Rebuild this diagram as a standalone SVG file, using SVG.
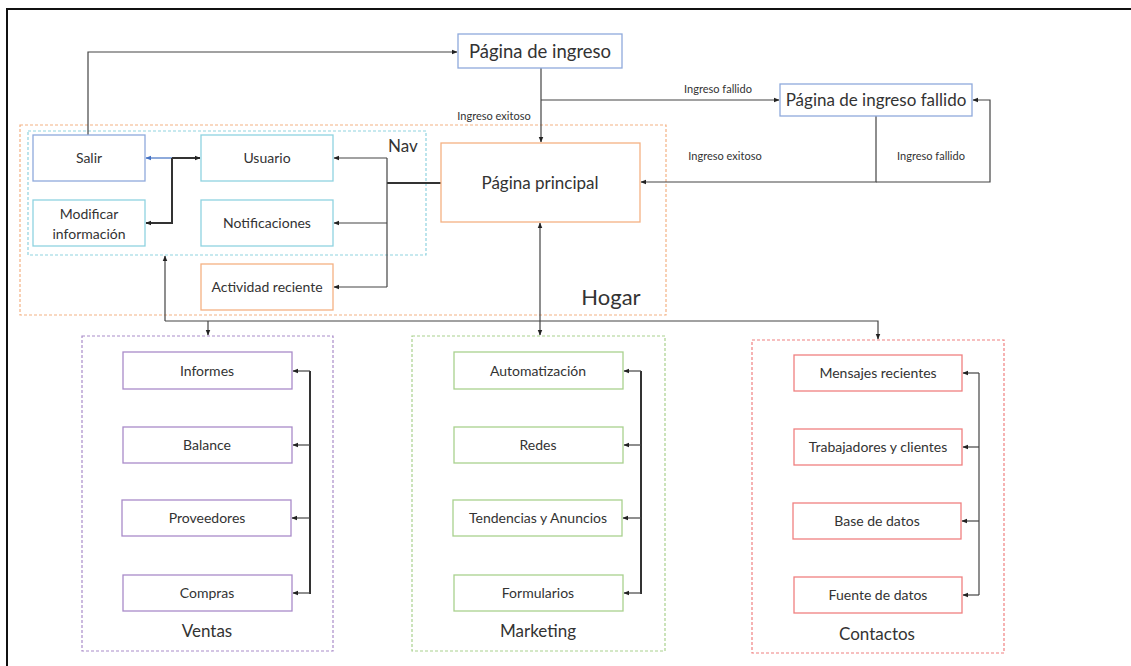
<svg xmlns="http://www.w3.org/2000/svg" width="1131" height="666" viewBox="0 0 1131 666">
<defs>
<marker id="ah" viewBox="0 0 10 10" refX="9" refY="5" markerWidth="6" markerHeight="6" orient="auto-start-reverse" markerUnits="userSpaceOnUse"><path d="M0,1 L10,5 L0,9 z" fill="#222"/></marker>
<marker id="ahb" viewBox="0 0 10 10" refX="9" refY="5" markerWidth="6" markerHeight="6" orient="auto-start-reverse" markerUnits="userSpaceOnUse"><path d="M0,1 L10,5 L0,9 z" fill="#4472c4"/></marker>
</defs>
<style>
text{font-family:Lato,"Open Sans","Liberation Sans",sans-serif;fill:#333;text-anchor:middle}
.box{fill:#fff;stroke-width:1.3}
.blue{stroke:#8faadc}
.cyan{stroke:#8fd3e0}
.orange{stroke:#f4b183}
.purple{stroke:#a98bc9}
.green{stroke:#a9d18e}
.red{stroke:#f08080}
.grp{fill:none;stroke-width:1.2;stroke-dasharray:3 2}
.c{fill:none;stroke:#444;stroke-width:1.2}
.ct{fill:none;stroke:#333;stroke-width:2}
.t14{font-size:14px}
.t11{font-size:11px}
</style>
<rect width="1131" height="666" fill="#fff"/>
<g id="frame"><path d="M7,666 V9 H1131" fill="none" stroke="#111" stroke-width="2"/></g>

<g id="hogar"><rect class="grp orange" x="20" y="125" width="646" height="190"/><text x="611" y="305" style="font-size:22px">Hogar</text></g>
<g id="nav"><rect class="grp cyan" x="28" y="131" width="398" height="124"/><text x="403" y="152" style="font-size:17px">Nav</text></g>
<g id="ventas"><rect class="grp purple" x="82" y="336" width="251" height="315"/><text x="207" y="637" style="font-size:17px">Ventas</text></g>
<g id="marketing"><rect class="grp green" x="412" y="336" width="253" height="315"/><text x="538" y="637" style="font-size:17px">Marketing</text></g>
<g id="contactos"><rect class="grp red" x="752" y="340" width="252" height="313"/><text x="877" y="640" style="font-size:17px">Contactos</text></g>

<g id="connectors">
<path class="c" d="M88,135 V52 H457" marker-end="url(#ah)"/>
<path class="c" d="M541,68 V142" marker-end="url(#ah)"/>
<path class="c" d="M541,100 H779" marker-end="url(#ah)"/>
<path class="c" d="M876,116 V182 H641" marker-end="url(#ah)"/>
<path class="c" d="M876,182 H990 V100 H973" marker-end="url(#ah)"/>
<path class="ct" d="M441,183 H387"/>
<path class="c" d="M387,158 V287"/>
<path class="c" d="M387,158 H334" marker-end="url(#ah)"/>
<path class="c" d="M387,223 H334" marker-end="url(#ah)"/>
<path class="c" d="M387,287 H334" marker-end="url(#ah)"/>
<path d="M172,158 H146" fill="none" stroke="#4472c4" stroke-width="1.2" marker-end="url(#ahb)"/>
<path class="ct" d="M172,158 H200" marker-end="url(#ah)"/>
<path class="ct" d="M172,158 V223 H146" marker-end="url(#ah)"/>
<path class="c" d="M165,321 V256" marker-end="url(#ah)"/>
<path class="c" d="M165,321 H878 V339" marker-end="url(#ah)"/>
<path class="c" d="M208,321 V335" marker-end="url(#ah)"/>
<path class="c" d="M540,223 V335" marker-start="url(#ah)" marker-end="url(#ah)"/>
<path class="ct" d="M310,371 V594"/>
<path class="c" d="M310,371 H293" marker-end="url(#ah)"/>
<path class="c" d="M310,445 H293" marker-end="url(#ah)"/>
<path class="c" d="M310,518 H292" marker-end="url(#ah)"/>
<path class="c" d="M310,593 H293" marker-end="url(#ah)"/>
<path class="ct" d="M641,371 V594"/>
<path class="c" d="M641,371 H624" marker-end="url(#ah)"/>
<path class="c" d="M641,445 H624" marker-end="url(#ah)"/>
<path class="c" d="M641,518 H623" marker-end="url(#ah)"/>
<path class="c" d="M641,593 H624" marker-end="url(#ah)"/>
<path class="c" d="M979,373 V595"/>
<path class="c" d="M979,373 H963" marker-end="url(#ah)"/>
<path class="c" d="M979,447 H963" marker-end="url(#ah)"/>
<path class="c" d="M979,521 H962" marker-end="url(#ah)"/>
<path class="c" d="M979,595 H963" marker-end="url(#ah)"/>
<text class="t11" x="494" y="120">Ingreso exitoso</text>
<text class="t11" x="718" y="93">Ingreso fallido</text>
<text class="t11" x="725" y="160">Ingreso exitoso</text>
<text class="t11" x="931" y="160">Ingreso fallido</text>
</g>

<g id="pagina-ingreso"><rect class="box blue" x="458" y="34" width="164" height="34"/><text x="540" y="58" style="font-size:18.5px">Página de ingreso</text></g>
<g id="pagina-fallido"><rect class="box blue" x="780" y="84" width="192" height="32"/><text x="876" y="106" style="font-size:17px">Página de ingreso fallido</text></g>
<g id="pagina-principal"><rect class="box orange" x="441" y="143" width="199" height="79"/><text x="540" y="189" style="font-size:17px">Página principal</text></g>
<g id="salir"><rect class="box blue" x="33" y="135" width="112" height="46"/><text class="t14" x="89" y="163">Salir</text></g>
<g id="modificar"><rect class="box cyan" x="33" y="200" width="112" height="46"/><text class="t14" x="89" y="219">Modificar</text><text class="t14" x="89" y="239">información</text></g>
<g id="usuario"><rect class="box cyan" x="201" y="135" width="132" height="46"/><text class="t14" x="267" y="163">Usuario</text></g>
<g id="notificaciones"><rect class="box cyan" x="201" y="200" width="132" height="46"/><text class="t14" x="267" y="228">Notificaciones</text></g>
<g id="actividad"><rect class="box orange" x="201" y="264" width="132" height="46"/><text class="t14" x="267" y="292">Actividad reciente</text></g>

<g id="informes"><rect class="box purple" x="123" y="352" width="169" height="37"/><text class="t14" x="207" y="376">Informes</text></g>
<g id="balance"><rect class="box purple" x="123" y="427" width="169" height="36"/><text class="t14" x="207" y="450">Balance</text></g>
<g id="proveedores"><rect class="box purple" x="122" y="500" width="169" height="36"/><text class="t14" x="207" y="523">Proveedores</text></g>
<g id="compras"><rect class="box purple" x="123" y="575" width="169" height="36"/><text class="t14" x="207" y="598">Compras</text></g>

<g id="automatizacion"><rect class="box green" x="454" y="352" width="169" height="37"/><text class="t14" x="538" y="376">Automatización</text></g>
<g id="redes"><rect class="box green" x="454" y="427" width="169" height="36"/><text class="t14" x="538" y="450">Redes</text></g>
<g id="tendencias"><rect class="box green" x="453" y="500" width="169" height="36"/><text class="t14" x="538" y="523">Tendencias y Anuncios</text></g>
<g id="formularios"><rect class="box green" x="454" y="575" width="169" height="36"/><text class="t14" x="538" y="598">Formularios</text></g>

<g id="mensajes"><rect class="box red" x="794" y="355" width="168" height="36"/><text class="t14" x="878" y="378">Mensajes recientes</text></g>
<g id="trabajadores"><rect class="box red" x="794" y="429" width="168" height="36"/><text class="t14" x="878" y="452">Trabajadores y clientes</text></g>
<g id="base"><rect class="box red" x="793" y="503" width="168" height="36"/><text class="t14" x="877" y="526">Base de datos</text></g>
<g id="fuente"><rect class="box red" x="794" y="577" width="168" height="36"/><text class="t14" x="878" y="600">Fuente de datos</text></g>
</svg>
